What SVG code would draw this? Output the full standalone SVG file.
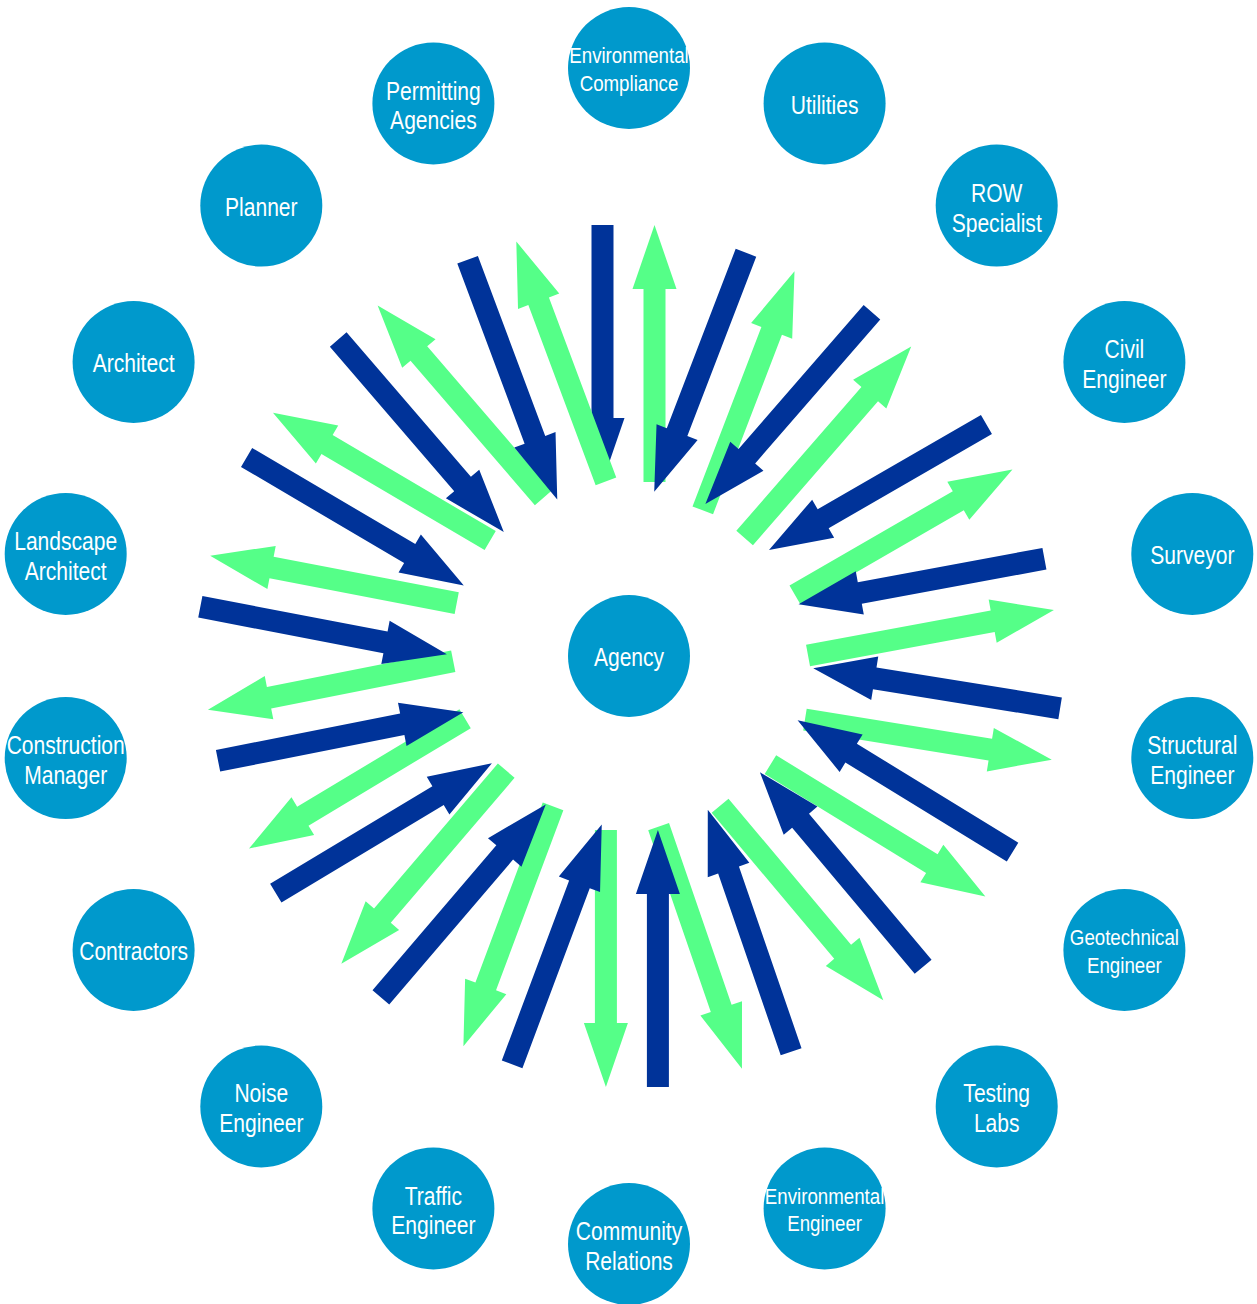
<svg xmlns="http://www.w3.org/2000/svg" xmlns:xlink="http://www.w3.org/1999/xlink" width="1257" height="1304" viewBox="0 0 1257 1304">
<style>
.node{fill:#0099cc}
.lbl{fill:#ffffff;font-family:"Liberation Sans",Arial,sans-serif;font-size:26px;text-anchor:middle}
.sm{font-size:22px}
.in{fill:#003399}
.out{fill:#55ff88}
</style>
<defs>
<path id="out" class="out" d="M0,15 L193,15 L193,4 L257,26 L193,48 L193,37 L0,37 Z"/>
<path id="in" class="in" d="M257,-37 L64,-37 L64,-48 L0,-26 L64,-4 L64,-15 L257,-15 Z"/>
</defs>
<rect width="1257" height="1304" fill="#ffffff"/>
<g id="connectors">
<g transform="translate(628.5,482) rotate(-90)"><use href="#in"/><use href="#out"/></g>
<g transform="translate(678.5,501) rotate(-69) scale(0.996,1)"><use href="#in"/><use href="#out"/></g>
<g transform="translate(725,521) rotate(-49) scale(0.988,1)"><use href="#in"/><use href="#out"/></g>
<g transform="translate(782,572.5) rotate(-30) scale(0.977,1)"><use href="#in"/><use href="#out"/></g>
<g transform="translate(803.3,629.9) rotate(-10.5) scale(0.973,1)"><use href="#in"/><use href="#out"/></g>
<g transform="translate(809.1,694) rotate(9.2) scale(0.973,1)"><use href="#in"/><use href="#out"/></g>
<g transform="translate(784,742.5) rotate(31.5) scale(0.981,1)"><use href="#in"/><use href="#out"/></g>
<g transform="translate(740,789) rotate(50) scale(0.988,1)"><use href="#in"/><use href="#out"/></g>
<g transform="translate(683.2,818.2) rotate(71) scale(0.996,1)"><use href="#in"/><use href="#out"/></g>
<g transform="translate(631.9,830) rotate(90)"><use href="#in"/><use href="#out"/></g>
<g transform="translate(577.4,815.5) rotate(110.5) scale(0.996,1)"><use href="#in"/><use href="#out"/></g>
<g transform="translate(526,787.5) rotate(130.5) scale(0.988,1)"><use href="#in"/><use href="#out"/></g>
<g transform="translate(478.5,741) rotate(149) scale(0.981,1)"><use href="#in"/><use href="#out"/></g>
<g transform="translate(458.3,686.7) rotate(168.8) scale(0.973,1)"><use href="#in"/><use href="#out"/></g>
<g transform="translate(451.8,628.7) rotate(190.9) scale(0.977,1)"><use href="#in"/><use href="#out"/></g>
<g transform="translate(477,563) rotate(210.5) scale(0.981,1)"><use href="#in"/><use href="#out"/></g>
<g transform="translate(523.5,515) rotate(229.3) scale(0.988,1)"><use href="#in"/><use href="#out"/></g>
<g transform="translate(581.6,490.4) rotate(249.5) scale(0.996,1)"><use href="#in"/><use href="#out"/></g>
</g>
<g id="agency"><circle class="node" cx="629" cy="656" r="61"/><text class="lbl" transform="translate(629,656) scale(0.81,1)" y="10">Agency</text></g>
<g id="environmental-compliance"><circle class="node" cx="629" cy="68" r="61"/><text class="lbl sm" transform="translate(629,68) scale(0.85,1)"><tspan x="0" y="-5">Environmental</tspan><tspan x="0" y="23">Compliance</tspan></text></g>
<g id="utilities"><circle class="node" cx="824.6" cy="103.5" r="61"/><text class="lbl" transform="translate(824.6,103.5) scale(0.81,1)" y="10">Utilities</text></g>
<g id="row-specialist"><circle class="node" cx="996.7" cy="205.6" r="61"/><text class="lbl" transform="translate(996.7,205.6) scale(0.81,1)"><tspan x="0" y="-4">ROW</tspan><tspan x="0" y="26">Specialist</tspan></text></g>
<g id="civil-engineer"><circle class="node" cx="1124.4" cy="362" r="61"/><text class="lbl" transform="translate(1124.4,362) scale(0.81,1)"><tspan x="0" y="-4">Civil</tspan><tspan x="0" y="26">Engineer</tspan></text></g>
<g id="surveyor"><circle class="node" cx="1192.3" cy="553.9" r="61"/><text class="lbl" transform="translate(1192.3,553.9) scale(0.81,1)" y="10">Surveyor</text></g>
<g id="structural-engineer"><circle class="node" cx="1192.3" cy="758.1" r="61"/><text class="lbl" transform="translate(1192.3,758.1) scale(0.81,1)"><tspan x="0" y="-4">Structural</tspan><tspan x="0" y="26">Engineer</tspan></text></g>
<g id="geotechnical-engineer"><circle class="node" cx="1124.4" cy="950" r="61"/><text class="lbl sm" transform="translate(1124.4,950) scale(0.85,1)"><tspan x="0" y="-5">Geotechnical</tspan><tspan x="0" y="23">Engineer</tspan></text></g>
<g id="testing-labs"><circle class="node" cx="996.7" cy="1106.4" r="61"/><text class="lbl" transform="translate(996.7,1106.4) scale(0.81,1)"><tspan x="0" y="-4">Testing</tspan><tspan x="0" y="26">Labs</tspan></text></g>
<g id="environmental-engineer"><circle class="node" cx="824.6" cy="1208.5" r="61"/><text class="lbl sm" transform="translate(824.6,1208.5) scale(0.85,1)"><tspan x="0" y="-5">Environmental</tspan><tspan x="0" y="23">Engineer</tspan></text></g>
<g id="community-relations"><circle class="node" cx="629" cy="1244" r="61"/><text class="lbl" transform="translate(629,1244) scale(0.81,1)"><tspan x="0" y="-4">Community</tspan><tspan x="0" y="26">Relations</tspan></text></g>
<g id="traffic-engineer"><circle class="node" cx="433.4" cy="1208.5" r="61"/><text class="lbl" transform="translate(433.4,1208.5) scale(0.81,1)"><tspan x="0" y="-4">Traffic</tspan><tspan x="0" y="26">Engineer</tspan></text></g>
<g id="noise-engineer"><circle class="node" cx="261.3" cy="1106.4" r="61"/><text class="lbl" transform="translate(261.3,1106.4) scale(0.81,1)"><tspan x="0" y="-4">Noise</tspan><tspan x="0" y="26">Engineer</tspan></text></g>
<g id="contractors"><circle class="node" cx="133.6" cy="950" r="61"/><text class="lbl" transform="translate(133.6,950) scale(0.81,1)" y="10">Contractors</text></g>
<g id="construction-manager"><circle class="node" cx="65.7" cy="758.1" r="61"/><text class="lbl" transform="translate(65.7,758.1) scale(0.81,1)"><tspan x="0" y="-4">Construction</tspan><tspan x="0" y="26">Manager</tspan></text></g>
<g id="landscape-architect"><circle class="node" cx="65.7" cy="553.9" r="61"/><text class="lbl" transform="translate(65.7,553.9) scale(0.81,1)"><tspan x="0" y="-4">Landscape</tspan><tspan x="0" y="26">Architect</tspan></text></g>
<g id="architect"><circle class="node" cx="133.6" cy="362" r="61"/><text class="lbl" transform="translate(133.6,362) scale(0.81,1)" y="10">Architect</text></g>
<g id="planner"><circle class="node" cx="261.3" cy="205.6" r="61"/><text class="lbl" transform="translate(261.3,205.6) scale(0.81,1)" y="10">Planner</text></g>
<g id="permitting-agencies"><circle class="node" cx="433.4" cy="103.5" r="61"/><text class="lbl" transform="translate(433.4,103.5) scale(0.81,1)"><tspan x="0" y="-4">Permitting</tspan><tspan x="0" y="26">Agencies</tspan></text></g>
</svg>
